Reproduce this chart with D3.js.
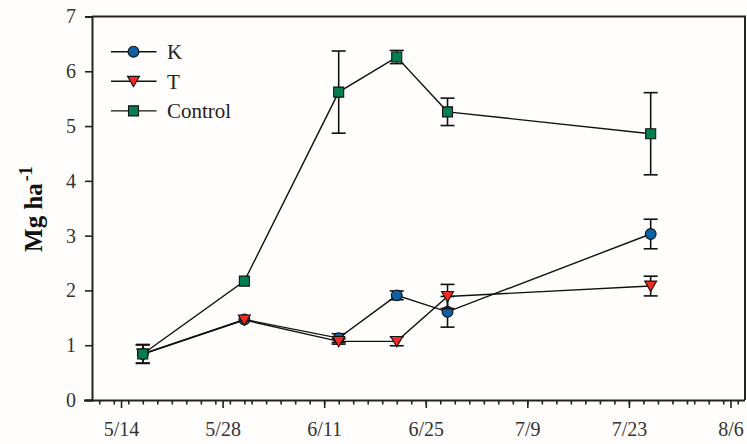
<!DOCTYPE html>
<html><head><meta charset="utf-8">
<script src="https://cdn.jsdelivr.net/npm/d3@7"></script>
<style>
html,body{margin:0;padding:0;background:#fffefd;}
svg{display:block;}
svg text{font-family:"Liberation Serif","Times New Roman",serif;}
</style></head>
<body>
<svg id="chart" width="747" height="444"></svg>
<script>
// ---- data ----
const dates = ["2019-05-17","2019-05-31","2019-06-13","2019-06-21","2019-06-28","2019-07-26"];
const seriesNames = ["K","T","Control"];
const kValues = [0.84, 1.47, 1.13, 1.91, 1.61, 3.03];
const kErrors = [0.17, 0, 0.08, 0.08, 0.28, 0.27];
const tValues = [0.84, 1.46, 1.07, 1.07, 1.89, 2.08];
const tErrors = [0.17, 0, 0.05, 0.08, 0.22, 0.18];
const cValues = [0.84, 2.17, 5.62, 6.26, 5.26, 4.86];
const cErrors = [0.17, 0, 0.75, 0.12, 0.25, 0.75];
const xTickLabels = ["5/14","5/28","6/11","6/25","7/9","7/23","8/6"];
const yTicks = [0,1,2,3,4,5,6,7];
const xDomain = ["2019-05-10","2019-08-08"];
const yTitle = "Mg ha";
const yTitleSup = "-1";

// ---- setup ----
const parse = d3.timeParse("%Y-%m-%d");
const svg = d3.select("#chart");
const m = {left: 92, right: 745, top: 16.5, bottom: 400};
const x = d3.scaleTime().domain(xDomain.map(parse)).range([m.left, m.right]);
const y = d3.scaleLinear().domain([0,7]).range([m.bottom, m.top]);
const font = "'Liberation Serif','Times New Roman',serif";

const series = [
  {name: seriesNames[0], values: kValues, errors: kErrors, color: "#0d5fa6", symbol: d3.symbolCircle, size: 92, rot: 0},
  {name: seriesNames[1], values: tValues, errors: tErrors, color: "#f52a1e", symbol: d3.symbolTriangle, size: 62, rot: 180},
  {name: seriesNames[2], values: cValues, errors: cErrors, color: "#00804f", symbol: d3.symbolSquare, size: 100, rot: 0}
];

// frame (top & right)
svg.append("path")
  .attr("d", `M${m.left},${m.top}H${m.right}V${m.bottom}`)
  .attr("fill","none").attr("stroke","#222").attr("stroke-width",2);

// y axis
const yAxis = d3.axisLeft(y).tickValues(yTicks).tickSize(7).tickPadding(9).tickFormat(d3.format("d"));
const gy = svg.append("g").attr("transform",`translate(${m.left},0)`).call(yAxis);
gy.attr("font-family", null);
gy.select(".domain").attr("stroke","#222").attr("stroke-width",2);
gy.selectAll(".tick line").attr("stroke","#222").attr("stroke-width",1.6);
gy.selectAll("text").style("font-family",font).attr("font-size",20).attr("fill","#333");

// x axis minor ticks
const minorTicks = d3.timeDay.every(2).range(parse(xDomain[0]), d3.timeDay.offset(parse(xDomain[1]),1));
const gxm = svg.append("g").attr("transform",`translate(0,${m.bottom})`)
  .call(d3.axisBottom(x).tickValues(minorTicks).tickSize(4.5).tickFormat(""));
gxm.select(".domain").remove();
gxm.selectAll(".tick line").attr("stroke","#222").attr("stroke-width",1.6);

// x axis major
const fmtParse = d3.timeParse("%Y/%m/%d");
const majorTicks = xTickLabels.map(s => fmtParse("2019/" + s));
const gx = svg.append("g").attr("transform",`translate(0,${m.bottom})`)
  .call(d3.axisBottom(x).tickValues(majorTicks).tickSize(8).tickPadding(14).tickFormat((d,i)=>xTickLabels[i]));
gx.attr("font-family", null);
gx.select(".domain").attr("stroke","#222").attr("stroke-width",2)
  .attr("d", `M${m.left-8},0.5H${m.right}`);
gx.selectAll(".tick line").attr("stroke","#222").attr("stroke-width",1.6);
gx.selectAll("text").style("font-family",font).attr("font-size",20).attr("fill","#333");

// y title
const yt = svg.append("text")
  .attr("transform","translate(42,209) rotate(-90)")
  .attr("text-anchor","middle")
  .style("font-family",font).attr("font-weight","bold").attr("font-size",25).attr("fill","#111");
yt.append("tspan").text(yTitle);
yt.append("tspan").attr("dy",-10).attr("font-size",18).attr("dx",2).text(yTitleSup);

// series
const pDates = dates.map(parse);
const line = d3.line().x(d=>x(d.date)).y(d=>y(d.v));
series.forEach(s => {
  const pts = s.values.map((v,i)=>({date:pDates[i], v, e:s.errors[i]}));
  const g = svg.append("g");
  g.append("path").datum(pts).attr("d", line).attr("fill","none").attr("stroke","#111").attr("stroke-width",1.4);
  const eb = g.selectAll(".eb").data(pts.filter(d=>d.e>0)).enter().append("g");
  eb.append("line").attr("x1",d=>x(d.date)).attr("x2",d=>x(d.date))
    .attr("y1",d=>y(d.v+d.e)).attr("y2",d=>y(d.v-d.e)).attr("stroke","#111").attr("stroke-width",1.6);
  [1,-1].forEach(sg => {
    eb.append("line").attr("x1",d=>x(d.date)-7).attr("x2",d=>x(d.date)+7)
      .attr("y1",d=>y(d.v+sg*d.e)).attr("y2",d=>y(d.v+sg*d.e)).attr("stroke","#111").attr("stroke-width",1.6);
  });
  g.selectAll(".mk").data(pts).enter().append("path")
    .attr("d", d3.symbol().type(s.symbol).size(s.size))
    .attr("transform", d=>`translate(${x(d.date)},${y(d.v) + (s.rot? -1.5:0)}) rotate(${s.rot})`)
    .attr("fill", s.color).attr("stroke","#111").attr("stroke-width",1.1);
});

// legend
const lg = svg.append("g");
series.forEach((s,i) => {
  const ly = 51.7 + i*29.6;
  lg.append("line").attr("x1",111).attr("x2",156.5).attr("y1",ly).attr("y2",ly).attr("stroke","#111").attr("stroke-width",1.4);
  lg.append("path").attr("d", d3.symbol().type(s.symbol).size(s.size))
    .attr("transform",`translate(133.5,${ly + (s.rot? -1.5:0)}) rotate(${s.rot})`)
    .attr("fill", s.color).attr("stroke","#111").attr("stroke-width",1.1);
  lg.append("text").attr("x",167).attr("y",ly).attr("dy","0.35em")
    .style("font-family",font).attr("font-size",21).attr("fill","#222").text(s.name);
});
</script>
</body></html>
